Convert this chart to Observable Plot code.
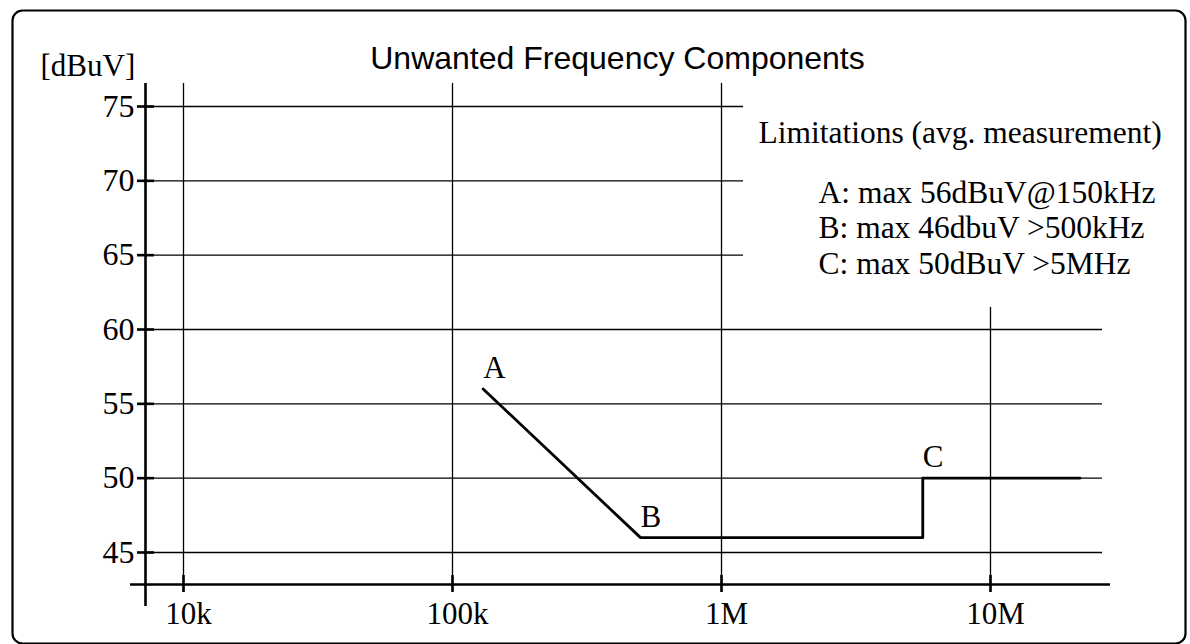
<!DOCTYPE html>
<html><head><meta charset="utf-8">
<script src="https://cdn.jsdelivr.net/npm/d3@7"></script>
<script src="https://cdn.jsdelivr.net/npm/@observablehq/plot@0.6"></script>
<style>html,body{margin:0;padding:0;background:#fff} svg{display:block}</style>
</head><body><div id="chart"></div>
<script>
// ---- data ----
const freq  = [130e3, 500e3, 5.6e6, 5.6e6, 21.5e6];   // Hz
const level = [56, 46, 46, 50, 50];                   // dBuV
const pointLabels = ["A", "B", "C"];
const labelFreq  = [130e3, 500e3, 5.6e6];
const labelLevel = [56, 46, 50];
const xTicks = [1e4, 1e5, 1e6, 1e7];
const xTickLabels = ["10k", "100k", "1M", "10M"];
const yTicks = [45, 50, 55, 60, 65, 70, 75];
const title = "Unwanted Frequency Components";
const unitLabel = "[dBuV]";
const legendTitle = "Limitations (avg. measurement)";
const legendLines = ["A: max 56dBuV@150kHz", "B: max 46dbuV >500kHz", "C: max 50dBuV >5MHz"];

// ---- layout ----
const W = 1190, H = 644;
const xDomain = [1e4, 1e7], xRange = [183, 990];
const yDomain = [45, 75], yRange = [552, 106];
const xs = d3.scaleLog(xDomain, xRange), ys = d3.scaleLinear(yDomain, yRange);
const px = p => xs.invert(p), py = p => ys.invert(p);
const SERIF = "Liberation Serif, Times New Roman, serif";
const SANS = "Liberation Sans, Arial, sans-serif";
const mL = 12, mT = 10;
const legendBaselines = [202, 237, 273];

const series = freq.map((f, i) => ({f, v: level[i]}));
const labels = pointLabels.map((t, i) => ({t, f: labelFreq[i], v: labelLevel[i]}));

const chart = Plot.plot({
  width: W, height: H,
  marginLeft: mL, marginRight: 5, marginTop: mT, marginBottom: 1,
  style: {background: "white", color: "black", fontFamily: SERIF},
  x: {type: "log", domain: xDomain, range: xRange, axis: null},
  y: {domain: yDomain, range: yRange, axis: null},
  marks: [
    Plot.frame({rx: 10, ry: 10, stroke: "black", strokeWidth: 2.2}),
    // horizontal grid
    Plot.ruleY(yTicks, {y: d => d, x1: px(146), x2: d => d >= 65 ? px(743) : px(1102), stroke: "black", strokeWidth: 1.3}),
    // vertical grid
    Plot.ruleX(xTicks, {x: d => d, y1: d => d >= 1e7 ? py(307) : py(83), y2: py(592), stroke: "black", strokeWidth: 1.3}),
    // axis lines
    Plot.ruleX([px(145)], {x: d => d, y1: py(83), y2: py(606), stroke: "black", strokeWidth: 2.6}),
    Plot.ruleY([py(584)], {y: d => d, x1: px(130), x2: px(1110), stroke: "black", strokeWidth: 2.6}),
    // ticks
    Plot.ruleY(yTicks, {y: d => d, x1: px(137), x2: px(154), stroke: "black", strokeWidth: 2.6}),
    Plot.ruleX(xTicks, {x: d => d, y1: py(575), y2: py(592), stroke: "black", strokeWidth: 2.6}),
    // tick labels
    Plot.text(yTicks, {x: px(134), y: d => d, text: d => String(d), textAnchor: "end", fontSize: 32, fontFamily: SERIF, fill: "black"}),
    Plot.text(xTicks, {x: d => d, y: py(623), text: (d, i) => xTickLabels[i], lineAnchor: "bottom", dx: 5, fontSize: 31, fontFamily: SERIF, fill: "black"}),
    // data line
    Plot.line(series, {x: "f", y: "v", stroke: "black", strokeWidth: 2.8}),
    // point labels
    Plot.text(labels, {x: "f", y: "v", text: "t", textAnchor: "start", lineAnchor: "bottom", dy: -11, fontSize: 31, fontFamily: SERIF, fill: "black"}),
    // title
    Plot.text([title], {frameAnchor: "top-left", dx: 617 - mL, dy: 68 - mT, textAnchor: "middle", lineAnchor: "bottom", fontSize: 32, fontFamily: SANS, fill: "black"}),
    // unit label
    Plot.text([unitLabel], {frameAnchor: "top-left", dx: 40 - mL, dy: 75 - mT, textAnchor: "start", lineAnchor: "bottom", fontSize: 31, fontFamily: SERIF, fill: "black"}),
    // legend
    Plot.text([legendTitle], {frameAnchor: "top-left", dx: 758 - mL, dy: 142 - mT, textAnchor: "start", lineAnchor: "bottom", fontSize: 31.5, fontFamily: SERIF, fill: "black"}),
    ...legendLines.map((t, i) =>
      Plot.text([t], {frameAnchor: "top-left", dx: 818 - mL, dy: legendBaselines[i] - mT, textAnchor: "start", lineAnchor: "bottom", fontSize: 31.5, fontFamily: SERIF, fill: "black"}))
  ]
});
document.getElementById("chart").appendChild(chart);
</script>
</body></html>
